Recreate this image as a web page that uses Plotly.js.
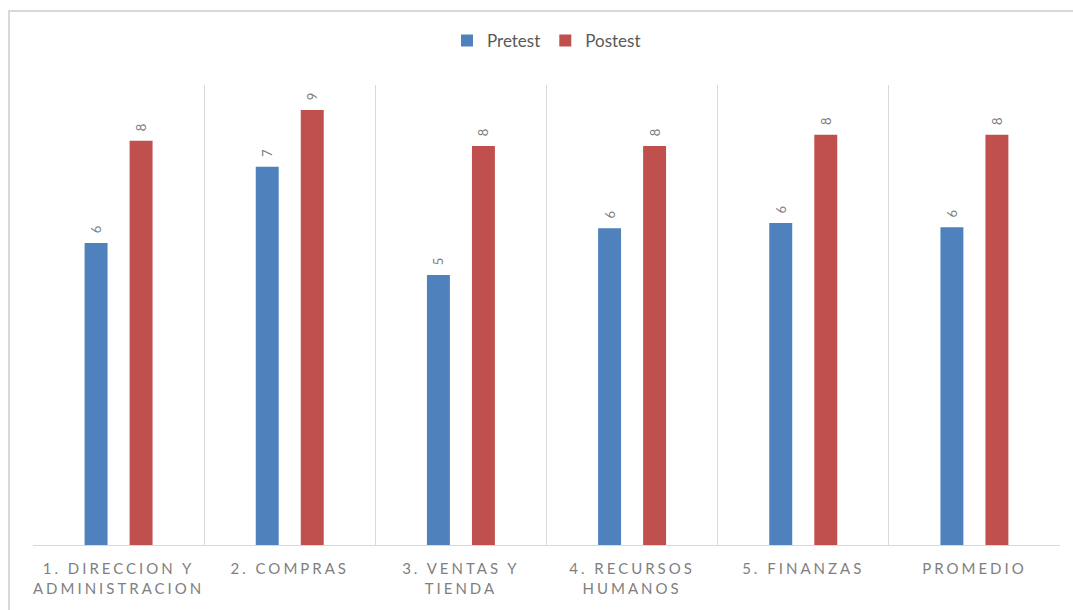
<!DOCTYPE html>
<html>
<head>
<meta charset="utf-8">
<script src="https://cdn.plot.ly/plotly-3.0.1.min.js"></script>
<style>
  html, body { margin: 0; padding: 0; background: #fff; }
  #chart { position: absolute; left: 0; top: 0; width: 1073px; height: 610px; }
  #frame { position: absolute; left: 8px; top: 10px; width: 1075px; height: 610px;
           border: 2px solid #d9d9d9; pointer-events: none; box-sizing: border-box; }
  .xtick text { letter-spacing: 3px; }
</style>
</head>
<body>
<div id="chart"></div>
<div id="frame"></div>
<script>
const categories = [
  "1. DIRECCION Y<br>ADMINISTRACION",
  "2. COMPRAS",
  "3. VENTAS Y<br>TIENDA",
  "4. RECURSOS<br>HUMANOS",
  "5. FINANZAS",
  "PROMEDIO"
];
const pretest = [5.95, 7.45, 5.32, 6.24, 6.34, 6.26];
const postest = [7.96, 8.57, 7.86, 7.86, 8.08, 8.08];

const fam = "Lato, 'Liberation Sans', sans-serif";
const labelFont = { family: fam, size: 13, color: "#7f7f7f" };

const traces = [
  {
    type: "bar", name: "Pretest", x: categories, y: pretest,
    marker: { color: "#4f81bd" },
    texttemplate: "\u00a0\u00a0%{y:.0f}", textposition: "outside", textangle: -90,
    textfont: labelFont, cliponaxis: false, hoverinfo: "skip"
  },
  {
    type: "bar", name: "Postest", x: categories, y: postest,
    marker: { color: "#c0504d" },
    texttemplate: "\u00a0\u00a0%{y:.0f}", textposition: "outside", textangle: -90,
    textfont: labelFont, cliponaxis: false, hoverinfo: "skip"
  }
];

const layout = {
  width: 1073, height: 610,
  margin: { l: 33, r: 13, t: 85, b: 65 },
  paper_bgcolor: "rgba(0,0,0,0)", plot_bgcolor: "#fff",
  barmode: "group", bargap: 0.474, bargroupgap: 0.49,
  font: { family: fam, color: "#595959" },
  showlegend: true,
  legend: {
    orientation: "h", x: 0.5, xanchor: "center", y: 1.096, yanchor: "middle",
    font: { size: 17, color: "#595959" }, itemwidth: 30, traceorder: "normal"
  },
  xaxis: {
    type: "category", tickson: "boundaries", showgrid: true, gridcolor: "#d9d9d9", gridwidth: 1,
    showline: true, linecolor: "#d9d9d9", linewidth: 1, ticks: "",
    tickfont: { family: fam, size: 15, color: "#7f7f7f" },
    ticklabelstandoff: 10,
    tickangle: 0, fixedrange: true
  },
  yaxis: {
    range: [0, 9.06], visible: false, showgrid: false, zeroline: false, fixedrange: true
  }
};

Plotly.newPlot("chart", traces, layout, { displayModeBar: false, staticPlot: true });
</script>
</body>
</html>
